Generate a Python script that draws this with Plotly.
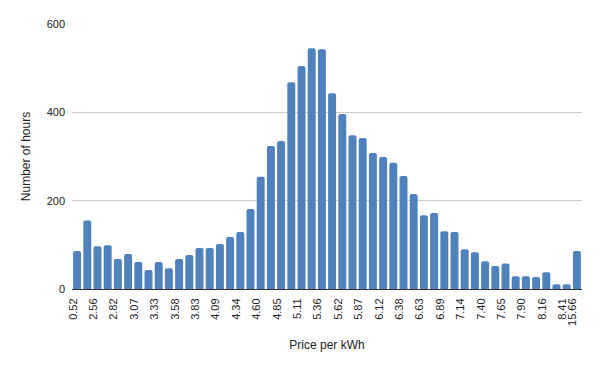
import plotly.graph_objects as go

categories = [
    "0.52", "2.43", "2.56", "2.69", "2.82", "2.94", "3.07", "3.20", "3.33", "3.45",
    "3.58", "3.71", "3.83", "3.96", "4.09", "4.22", "4.34", "4.47", "4.60", "4.73",
    "4.85", "4.98", "5.11", "5.24", "5.36", "5.49", "5.62", "5.75", "5.87", "6.00",
    "6.12", "6.26", "6.38", "6.51", "6.63", "6.77", "6.89", "7.02", "7.14", "7.27",
    "7.40", "7.53", "7.65", "7.78", "7.90", "8.03", "8.16", "8.29", "8.41", "15.66",
]
hours = [
    86, 155, 97, 99, 68, 79, 61, 43, 61, 47,
    68, 77, 93, 93, 102, 118, 129, 181, 254, 324,
    335, 468, 505, 545, 543, 443, 396, 348, 342, 308,
    299, 286, 256, 215, 167, 172, 131, 129, 90, 83,
    63, 52, 58, 29, 29, 27, 38, 11, 11, 86,
]
tick_labels = categories[0:49:2] + [categories[-1]]
y_ticks = [0, 200, 400, 600]

fig = go.Figure(go.Bar(
    x=categories, y=hours,
    marker=dict(color="#4f81bd", cornerradius=2, line=dict(width=0)),
))

tick_font = "Liberation Sans Narrow, Arial Narrow, Liberation Sans, sans-serif"
title_font = "Liberation Sans, Arial, sans-serif"
# the page body adds an 8px margin, so the figure is sized to 592x363
fig.update_layout(
    width=592, height=363,
    margin=dict(l=64, r=18, t=16, b=82, autoexpand=False),
    paper_bgcolor="white", plot_bgcolor="white",
    bargap=0.22,
    showlegend=False,
    font=dict(family=tick_font, size=10, color="#222"),
)
fig.update_xaxes(
    type="category", automargin=False,
    tickmode="array", tickvals=tick_labels, ticktext=tick_labels,
    tickangle=-90, tickfont=dict(family=tick_font, size=11, color="#222"),
    ticklabelshift=-4, ticklabelstandoff=4,
    showline=True, linecolor="#333", linewidth=1,
    showgrid=False, ticks="",
    title=dict(text="Price per kWh", font=dict(family=title_font, size=12, color="#222"), standoff=15),
)
fig.update_yaxes(
    range=[0, 600], tickvals=y_ticks, automargin=False,
    showgrid=True, gridcolor="#cccccc", gridwidth=1,
    zeroline=False, ticks="", ticklabelstandoff=6,
    tickfont=dict(family=tick_font, size=11, color="#222"),
    title=dict(text="Number of hours", font=dict(family=title_font, size=12, color="#222"), standoff=13),
)
fig.write_html("out.html")
